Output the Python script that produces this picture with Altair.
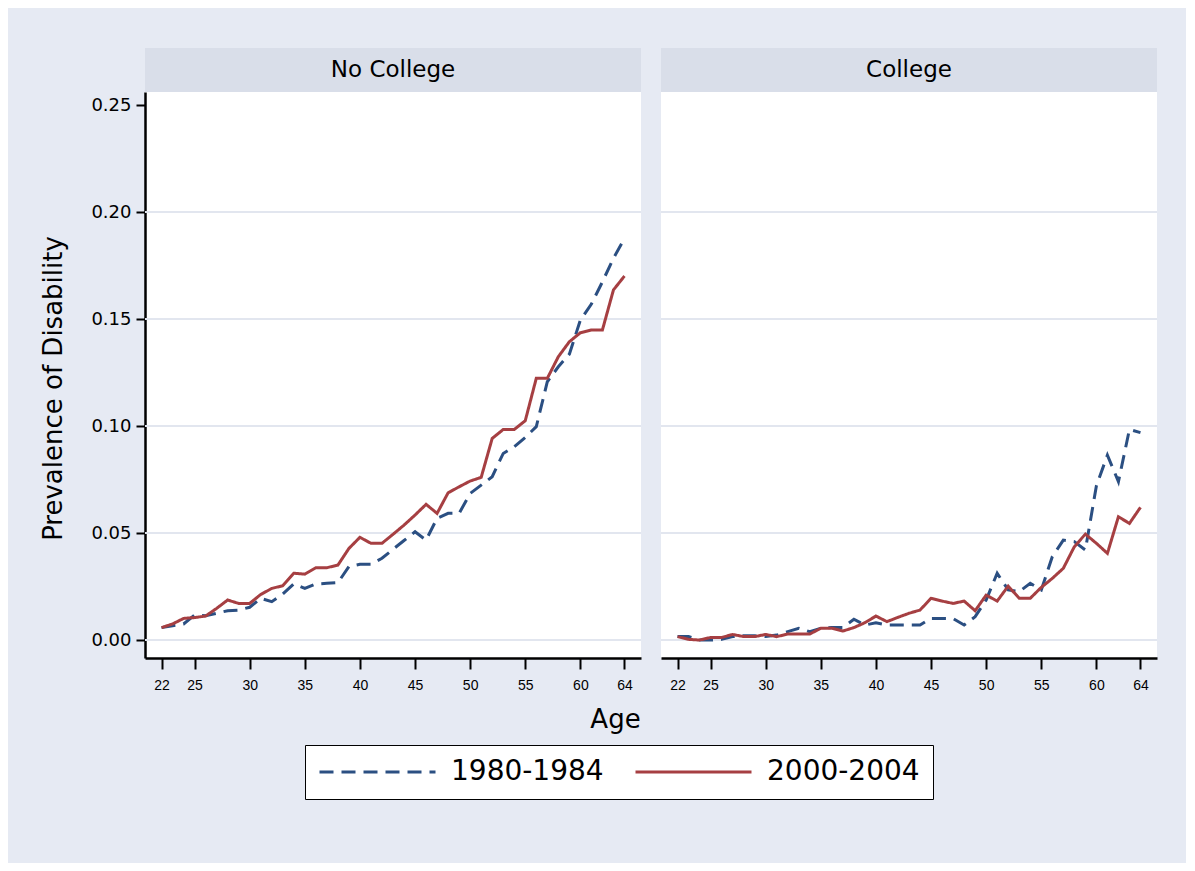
import altair as alt
import pandas as pd

# ---------------- data ----------------
ages = list(range(22, 65))
periods = ["1980-1984", "2000-2004"]
groups = ["No College", "College"]

nc_1980 = [0.0058, 0.0067, 0.0075, 0.0117, 0.0114, 0.0125, 0.0137, 0.0140, 0.0153, 0.0195,
           0.0179, 0.0215, 0.0262, 0.0241, 0.0262, 0.0265, 0.0268, 0.0343, 0.0354, 0.0354,
           0.0382, 0.0424, 0.0465, 0.0506, 0.0467, 0.0569, 0.0592, 0.0592, 0.0685, 0.0724,
           0.0763, 0.0872, 0.0903, 0.0947, 0.0997, 0.1207, 0.1277, 0.1336, 0.1495, 0.1570,
           0.1674, 0.1784, 0.1877]
nc_2000 = [0.0058, 0.0075, 0.0101, 0.0105, 0.0112, 0.0148, 0.0187, 0.0171, 0.0171, 0.0213,
           0.0241, 0.0254, 0.0312, 0.0308, 0.0338, 0.0338, 0.0350, 0.0428, 0.0480, 0.0452,
           0.0452, 0.0494, 0.0537, 0.0584, 0.0634, 0.0592, 0.0688, 0.0716, 0.0743, 0.0760,
           0.0942, 0.0984, 0.0984, 0.1025, 0.1223, 0.1223, 0.1324, 0.1394, 0.1436, 0.1449,
           0.1449, 0.1636, 0.1701]
col_1980 = [0.0016, 0.0016, 0.0000, 0.0000, 0.0003, 0.0016, 0.0020, 0.0020, 0.0016, 0.0023,
            0.0039, 0.0055, 0.0039, 0.0055, 0.0059, 0.0059, 0.0097, 0.0070, 0.0081, 0.0070,
            0.0070, 0.0070, 0.0070, 0.0101, 0.0101, 0.0100, 0.0070, 0.0109, 0.0187, 0.0312,
            0.0234, 0.0226, 0.0265, 0.0234, 0.0389, 0.0467, 0.0460, 0.0421, 0.0720, 0.0864,
            0.0740, 0.0984, 0.0969]
col_2000 = [0.0016, 0.0003, 0.0000, 0.0012, 0.0012, 0.0026, 0.0016, 0.0016, 0.0026, 0.0016,
            0.0028, 0.0028, 0.0028, 0.0055, 0.0055, 0.0042, 0.0058, 0.0081, 0.0112, 0.0086,
            0.0106, 0.0125, 0.0140, 0.0195, 0.0182, 0.0171, 0.0182, 0.0137, 0.0210, 0.0182,
            0.0252, 0.0195, 0.0195, 0.0246, 0.0288, 0.0335, 0.0436, 0.0495, 0.0452, 0.0405,
            0.0576, 0.0545, 0.0620]

y_ticks = [0.0, 0.05, 0.10, 0.15, 0.20, 0.25]
grid_vals = [0.0, 0.05, 0.10, 0.15, 0.20]
x_ticks = [22, 25, 30, 35, 40, 45, 50, 55, 60, 64]

rows = []
for g, s80, s00 in [(groups[0], nc_1980, nc_2000), (groups[1], col_1980, col_2000)]:
    for a, v in zip(ages, s80):
        rows.append({"group": g, "period": periods[0], "age": a, "value": v})
    for a, v in zip(ages, s00):
        rows.append({"group": g, "period": periods[1], "age": a, "value": v})
df = pd.DataFrame(rows)

# ---------------- style ----------------
W, H = 496, 566
HEAD_H = 44
BG = "#E6EAF3"
HEAD = "#D9DEE9"
GRID = "#E2E6EF"
BLUE = "#2b4f82"
RED = "#a63f42"
FONT = "DejaVu Sans"
XFONT = "Liberation Sans"

xscale = alt.Scale(domain=[20.5, 65.5], nice=False, zero=False)
yscale = alt.Scale(domain=[-0.0084, 0.2561], nice=False, zero=False)
color_scale = alt.Scale(domain=periods, range=[BLUE, RED])
dash_scale = alt.Scale(domain=periods, range=[[14, 8], [1, 0]])

legend_def = alt.Legend(
    title=None, orient="none", legendX=160, legendY=653, direction="horizontal",
    symbolType="stroke", symbolSize=13456, symbolStrokeWidth=3, clipHeight=28,
    labelFontSize=28, labelFont=FONT, labelColor="black", labelOffset=14,
    columnPadding=30, padding=13, strokeColor="black", fillColor="white",
)


def make_axes(first):
    if first:
        yax = alt.Axis(values=y_ticks, format=".2f", grid=False, domainColor="black",
                       domainWidth=2.5, tickColor="black", tickWidth=2, tickSize=9,
                       labelFontSize=18, labelFont=FONT, labelColor="black", labelPadding=5,
                       title="Prevalence of Disability", titleFontSize=26, titleFont=FONT,
                       titleFontWeight="normal", titleColor="black", titlePadding=24,
                       titleY=296)
        xax = alt.Axis(values=x_ticks, grid=False, domainColor="black", domainWidth=2.5,
                       tickColor="black", tickWidth=2, tickSize=11, labelFontSize=14,
                       labelFont=XFONT, labelColor="black", labelPadding=9,
                       labelFlush=False, title="Age", titleFontSize=26, titleFont=FONT,
                       titleFontWeight="normal", titleColor="black", titleX=470, titleY=61,
                       titleBaseline="middle", titleAlign="center")
    else:
        yax = None
        xax = alt.Axis(values=x_ticks, grid=False, domainColor="black", domainWidth=2.5,
                       tickColor="black", tickWidth=2, tickSize=11, labelFontSize=14,
                       labelFont=XFONT, labelColor="black", labelPadding=9,
                       labelFlush=False, title=None)
    return xax, yax


def panel(g, first):
    xax, yax = make_axes(first)
    hdr_df = pd.DataFrame({"group": [g]})
    header = alt.Chart(hdr_df).mark_rect(color=HEAD).encode(
        x=alt.value(0), x2=alt.value(W), y=alt.value(-HEAD_H), y2=alt.value(0))
    header_text = alt.Chart(hdr_df).mark_text(
        fontSize=23, font=FONT, color="black", align="center", baseline="middle").encode(
        x=alt.value(W / 2), y=alt.value(-HEAD_H / 2), text="group:N")
    grid = alt.Chart(pd.DataFrame({"value": grid_vals})).mark_rule(
        color=GRID, strokeWidth=2).encode(
        y=alt.Y("value:Q", scale=yscale, axis=yax))
    lines = alt.Chart(df[df["group"] == g]).mark_line(strokeWidth=3).encode(
        x=alt.X("age:Q", scale=xscale, axis=xax),
        y=alt.Y("value:Q", scale=yscale, axis=yax),
        color=alt.Color("period:N", scale=color_scale, legend=legend_def),
        strokeDash=alt.StrokeDash("period:N", scale=dash_scale, legend=legend_def),
        detail="period:N",
    )
    return alt.layer(header, grid, lines, header_text).properties(width=W, height=H)


chart = alt.hconcat(panel(groups[0], True), panel(groups[1], False), spacing=18).resolve_scale(
    color="shared", strokeDash="shared").resolve_legend(color="shared", strokeDash="shared").properties(
    background=BG, padding={"left": 32, "top": 40, "right": 28, "bottom": 63}
).configure_view(fill="white", stroke=None)

chart.save("out.html", embed_options={"renderer": "svg", "actions": False})
